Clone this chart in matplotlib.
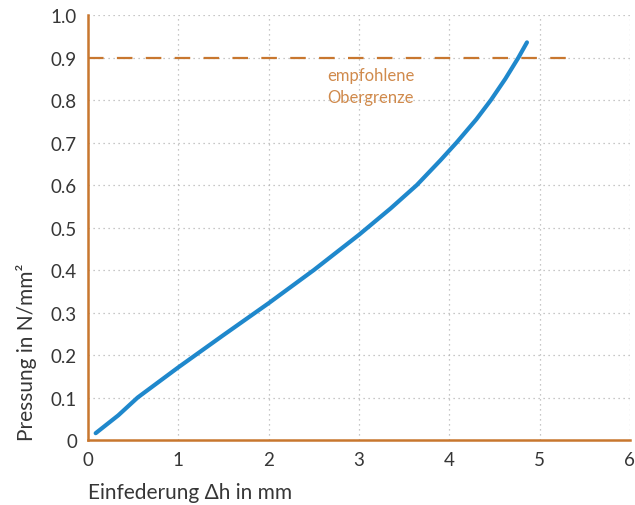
import matplotlib.pyplot as plt

plt.rcParams["font.family"] = ["Lato", "DejaVu Sans"]

# Einfederung (mm) vs. Pressung (N/mm²)
deflection = [0.085, 0.335, 0.55, 1.0, 1.5, 2.0, 2.5, 3.0, 3.35, 3.64,
              3.9, 4.08, 4.3, 4.46, 4.62, 4.765, 4.86]
pressure = [0.016, 0.058, 0.10, 0.171, 0.247, 0.322, 0.40, 0.483, 0.545, 0.60,
            0.658, 0.70, 0.755, 0.80, 0.85, 0.90, 0.936]

limit_value = 0.9
limit_end = 5.32
x_ticks = [0, 1, 2, 3, 4, 5, 6]
y_ticks = [0, 0.1, 0.2, 0.3, 0.4, 0.5, 0.6, 0.7, 0.8, 0.9, 1.0]
y_tick_labels = ["0", "0.1", "0.2", "0.3", "0.4", "0.5", "0.6", "0.7", "0.8", "0.9", "1.0"]

ORANGE = "#c8772f"
BLUE = "#1f88cc"
TEXT = "#363636"

fig = plt.figure(figsize=(6.35, 5.06), dpi=100)
ax = fig.add_axes([0.1386, 0.1285, 0.8534, 0.8395])

ax.plot(deflection, pressure, color=BLUE, lw=3, solid_capstyle="round",
        solid_joinstyle="round", zorder=3)
ax.plot([0, limit_end], [limit_value, limit_value], color=ORANGE, lw=1.6,
        dashes=(7, 6), zorder=2)
ax.text(2.65, 0.878, "empfohlene\nObergrenze", color="#d08a4c", fontsize=12,
        ha="left", va="top", linespacing=1.45)

ax.set_xlim(0, 6)
ax.set_ylim(0, 1.0)
ax.set_xticks(x_ticks)
ax.set_yticks(y_ticks, y_tick_labels)
ax.tick_params(length=0, labelsize=13.5, labelcolor=TEXT, pad=8)
ax.grid(color="#b5b5b5", linestyle=(0, (1, 3)), lw=0.9)
ax.set_axisbelow(True)

for side in ("top", "right"):
    ax.spines[side].set_visible(False)
for side in ("left", "bottom"):
    ax.spines[side].set_color(ORANGE)
    ax.spines[side].set_linewidth(1.8)

ax.set_xlabel("Einfederung Δh in mm", loc="left", fontsize=15, color=TEXT, labelpad=10)
ax.set_ylabel("Pressung in N/mm²", loc="bottom", fontsize=15, color=TEXT, labelpad=10)

fig.savefig("out.png", dpi=100)
